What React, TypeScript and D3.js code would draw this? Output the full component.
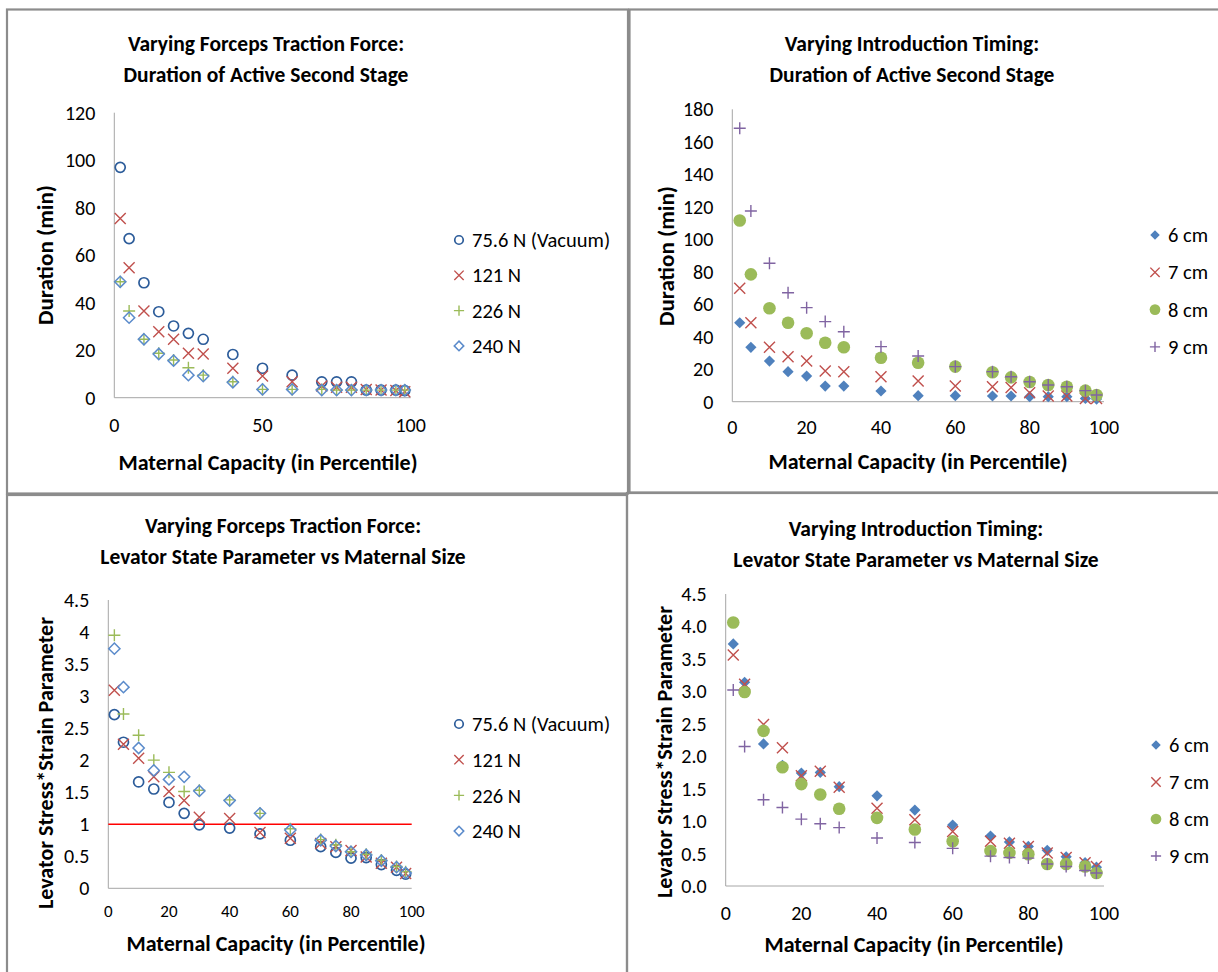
import React from 'react';
import * as d3 from 'd3';

// maternal capacity percentiles shared by every series
const percentiles = [2, 5, 10, 15, 20, 25, 30, 40, 50, 60, 70, 75, 80, 85, 90, 95, 98];

// forceps traction force: duration (min)
const durVacuum = [97, 67, 48.4, 36.2, 30.2, 27.1, 24.6, 18.2, 12.4, 9.5, 6.7, 6.7, 6.7, 3.2, 3.2, 3.2, 3];
const dur121 = [75.5, 54.7, 36.5, 27.8, 24.6, 18.7, 18.4, 12.4, 9.1, 6.7, 4.9, 4.4, 4.4, 3.5, 3.2, 3, 2.5];
const dur226 = [48.8, 36.5, 24.6, 18.7, 15.9, 12.6, 9.5, 6.7, 3.5, 3.5, 3.5, 3.2, 3.2, 3.2, 3.2, 3.2, 3.2];
const dur240 = [48.8, 33.7, 24.6, 18.4, 15.6, 9.5, 9.1, 6.5, 3.5, 3.5, 3.2, 3.2, 3.2, 3.2, 3.2, 3.2, 3.2];

// introduction timing: duration (min)
const dur6cm = [48.6, 33.5, 25, 18.5, 15.8, 9.6, 9.6, 6.6, 3.7, 3.7, 3.5, 3.5, 3.1, 3.1, 3.1, 2, 1.6];
const dur7cm = [69.8, 48.6, 33.5, 27.7, 25, 18.9, 18.5, 15.4, 12.7, 9.6, 9.2, 8.8, 5.5, 3.5, 3.5, 2, 2];
const dur8cm = [111.5, 78.4, 57.5, 48.6, 42.1, 36.3, 33.5, 27.1, 24, 21.6, 18.1, 15, 12.1, 10.3, 9.2, 6.8, 4.1];
const dur9cm = [168.3, 117.4, 85.2, 67.1, 57.9, 49.3, 43.1, 33.9, 28.1, 21.6, 18.5, 15.4, 12.3, 10.3, 9.2, 6.8, 4.1];

// forceps traction force: levator stress*strain
const lsVacuum = [2.71, 2.28, 1.66, 1.55, 1.34, 1.17, 0.99, 0.94, 0.85, 0.75, 0.65, 0.56, 0.47, 0.48, 0.37, 0.28, 0.22];
const ls121 = [3.09, 2.25, 2.03, 1.74, 1.51, 1.37, 1.11, 1.09, 0.87, 0.78, 0.7, 0.65, 0.59, 0.49, 0.39, 0.33, 0.23];
const ls226 = [3.95, 2.72, 2.39, 2.0, 1.81, 1.51, 1.53, 1.38, 1.17, 0.93, 0.76, 0.68, 0.57, 0.53, 0.44, 0.34, 0.26];
const ls240 = [3.74, 3.14, 2.19, 1.84, 1.7, 1.74, 1.52, 1.37, 1.17, 0.91, 0.75, 0.66, 0.57, 0.52, 0.43, 0.33, 0.24];

// introduction timing: levator stress*strain
const ls6cm = [3.73, 3.14, 2.19, 1.86, 1.74, 1.75, 1.53, 1.39, 1.17, 0.94, 0.77, 0.68, 0.61, 0.55, 0.45, 0.36, 0.29];
const ls7cm = [3.56, 3.11, 2.49, 2.13, 1.7, 1.77, 1.52, 1.2, 1.02, 0.84, 0.69, 0.66, 0.61, 0.51, 0.44, 0.36, 0.3];
const ls8cm = [4.06, 2.99, 2.39, 1.83, 1.57, 1.41, 1.19, 1.05, 0.87, 0.69, 0.54, 0.51, 0.49, 0.34, 0.34, 0.3, 0.2];
const ls9cm = [3.02, 2.15, 1.33, 1.21, 1.03, 0.96, 0.9, 0.74, 0.67, 0.58, 0.46, 0.44, 0.43, 0.34, 0.3, 0.24, 0.2];

const forceNames = ['75.6 N (Vacuum)', '121 N', '226 N', '240 N'];
const timingNames = ['6 cm', '7 cm', '8 cm', '9 cm'];

const FONT = 'Carlito, Calibri, Lato, sans-serif';

const forceStyles = [
  { shape: 'ring', color: '#2C5C9A' },
  { shape: 'x', color: '#C0504D' },
  { shape: 'plus', color: '#9BBB59' },
  { shape: 'diamondOpen', color: '#5B8BCB' },
];
const timingStyles = [
  { shape: 'diamond', color: '#4F81BD' },
  { shape: 'x', color: '#C0504D' },
  { shape: 'dot', color: '#9BBB59' },
  { shape: 'plus', color: '#8064A2' },
];

function Marker({ shape, color, x, y, s = 1 }) {
  const t = `translate(${x},${y})`;
  if (shape === 'ring') return <circle transform={t} r={5 * s} fill="none" stroke={color} strokeWidth={1.7} />;
  if (shape === 'dot') return <circle transform={t} r={6.3 * s} fill={color} />;
  if (shape === 'x') {
    const h = 5.5 * s;
    return <path transform={t} d={`M${-h},${-h}L${h},${h}M${-h},${h}L${h},${-h}`} stroke={color} strokeWidth={1.4} fill="none" />;
  }
  if (shape === 'plus') {
    const h = 6 * s;
    return <path transform={t} d={`M${-h},0H${h}M0,${-h}V${h}`} stroke={color} strokeWidth={1.4} fill="none" />;
  }
  const h = 5.6 * s;
  const d = `M0,${-h}L${h},0L0,${h}L${-h},0Z`;
  if (shape === 'diamond') return <path transform={t} d={d} fill={color} />;
  return <path transform={t} d={d} fill="none" stroke={color} strokeWidth={1.5} />;
}

function Panel(p) {
  const x = d3.scaleLinear().domain([0, 100]).range([p.left, p.right]);
  const y = d3.scaleLinear().domain([0, p.yMax]).range([p.bottom, p.top]);
  const yTicks = d3.range(0, p.yMax + p.yStep / 2, p.yStep);
  const xTicks = d3.range(0, 100 + p.xStep / 2, p.xStep);
  return (
    <g fontFamily={FONT}>
      {p.titles.map((t, i) => (
        <text key={i} x={p.titleX} y={p.titleY + i * 31} textAnchor="middle" fontWeight="bold" fontSize={21.5}>{t}</text>
      ))}
      <line x1={p.left} x2={p.left} y1={p.top} y2={p.bottom} stroke="#A6A6A6" />
      <line x1={p.left} x2={p.right} y1={p.bottom} y2={p.bottom} stroke="#A6A6A6" />
      {yTicks.map(v => (
        <text key={v} x={p.left - 19} y={y(v)} dy="0.35em" textAnchor="end" fontSize={20}>{p.yFmt(v)}</text>
      ))}
      {xTicks.map(v => (
        <text key={v} x={x(v)} y={p.bottom + p.xTickDy} dy="0.35em" textAnchor="middle" fontSize={p.xTickSize}>{v}</text>
      ))}
      {p.refLine && <line x1={p.left} x2={p.right} y1={y(1)} y2={y(1)} stroke="#FF0000" strokeWidth={1.6} />}
      {p.series.map((vals, si) => (
        <g key={si}>
          {vals.map((v, i) => (
            <Marker key={i} shape={p.styles[si].shape} color={p.styles[si].color} x={x(percentiles[i])} y={y(v)} />
          ))}
        </g>
      ))}
      <text transform={`translate(${p.yTitleX},${p.yTitleY}) rotate(-90)`} textAnchor="middle" dy="0.35em" fontWeight="bold" fontSize={p.yTitleSize}>{p.yTitle}</text>
      <text x={p.xTitleX} y={p.xTitleY} dy="0.35em" textAnchor="middle" fontWeight="bold" fontSize={22}>Maternal Capacity (in Percentile)</text>
      {p.names.map((n, i) => (
        <g key={n}>
          <Marker shape={p.styles[i].shape} color={p.styles[i].color} x={p.legX} y={p.legY + i * p.legGap} s={0.85} />
          <text x={p.legX + 13} y={p.legY + i * p.legGap} dy="0.35em" fontSize={20.5}>{n}</text>
        </g>
      ))}
    </g>
  );
}

export default function App() {
  const intFmt = d3.format('d');
  const plain = v => String(+v.toFixed(1));
  const oneDec = d3.format('.1f');
  return (
    <svg width={1218} height={972} style={{ position: 'absolute', left: 0, top: 0, background: '#fff' }}>
      <rect x={0} y={0} width={1218} height={972} fill="#fff" />
      <rect x={7} y={9.5} width={621} height={484} fill="none" stroke="#8C8C8C" strokeWidth={2.2} />
      <rect x={629.5} y={9.5} width={600} height={483} fill="none" stroke="#8C8C8C" strokeWidth={2.2} />
      <rect x={7} y={495} width={620} height={500} fill="none" stroke="#8C8C8C" strokeWidth={2.2} />
      <rect x={627} y={493} width={600} height={500} fill="none" stroke="#8C8C8C" strokeWidth={2.2} />

      <Panel
        titles={['Varying Forceps Traction Force:', 'Duration of Active Second Stage']} titleX={266} titleY={51}
        left={114.3} right={410.7} top={112.7} bottom={397.7} yMax={120} yStep={20} xStep={50}
        yFmt={intFmt} xTickDy={27} xTickSize={20}
        yTitle="Duration (min)" yTitleSize={23} yTitleX={45} yTitleY={255} xTitleX={268} xTitleY={462}
        series={[durVacuum, dur121, dur226, dur240]} styles={forceStyles} names={forceNames}
        legX={459} legY={240} legGap={35.3}
      />
      <Panel
        titles={['Varying Introduction Timing:', 'Duration of Active Second Stage']} titleX={912} titleY={51}
        left={732.3} right={1104} top={109.3} bottom={401.7} yMax={180} yStep={20} xStep={20}
        yFmt={intFmt} xTickDy={25} xTickSize={20}
        yTitle="Duration (min)" yTitleSize={23} yTitleX={666} yTitleY={256} xTitleX={918} xTitleY={461}
        series={[dur6cm, dur7cm, dur8cm, dur9cm]} styles={timingStyles} names={timingNames}
        legX={1155} legY={235} legGap={37.3}
      />
      <Panel
        titles={['Varying Forceps Traction Force:', 'Levator State Parameter vs Maternal Size']} titleX={283} titleY={533}
        left={108.3} right={411.7} top={600} bottom={888.3} yMax={4.5} yStep={0.5} xStep={20}
        yFmt={plain} xTickDy={23} xTickSize={17}
        yTitle="Levator Stress*Strain Parameter" yTitleSize={22} yTitleX={45} yTitleY={763} xTitleX={276} xTitleY={943}
        series={[lsVacuum, ls121, ls226, ls240]} styles={forceStyles} names={forceNames}
        legX={459} legY={724} legGap={35.7} refLine
      />
      <Panel
        titles={['Varying Introduction Timing:', 'Levator State Parameter vs Maternal Size']} titleX={916} titleY={536}
        left={725.7} right={1104} top={594} bottom={886} yMax={4.5} yStep={0.5} xStep={20}
        yFmt={oneDec} xTickDy={27} xTickSize={20}
        yTitle="Levator Stress*Strain Parameter" yTitleSize={22} yTitleX={664} yTitleY={752} xTitleX={914} xTitleY={944}
        series={[ls6cm, ls7cm, ls8cm, ls9cm]} styles={timingStyles} names={timingNames}
        legX={1156} legY={745} legGap={37}
      />
    </svg>
  );
}
